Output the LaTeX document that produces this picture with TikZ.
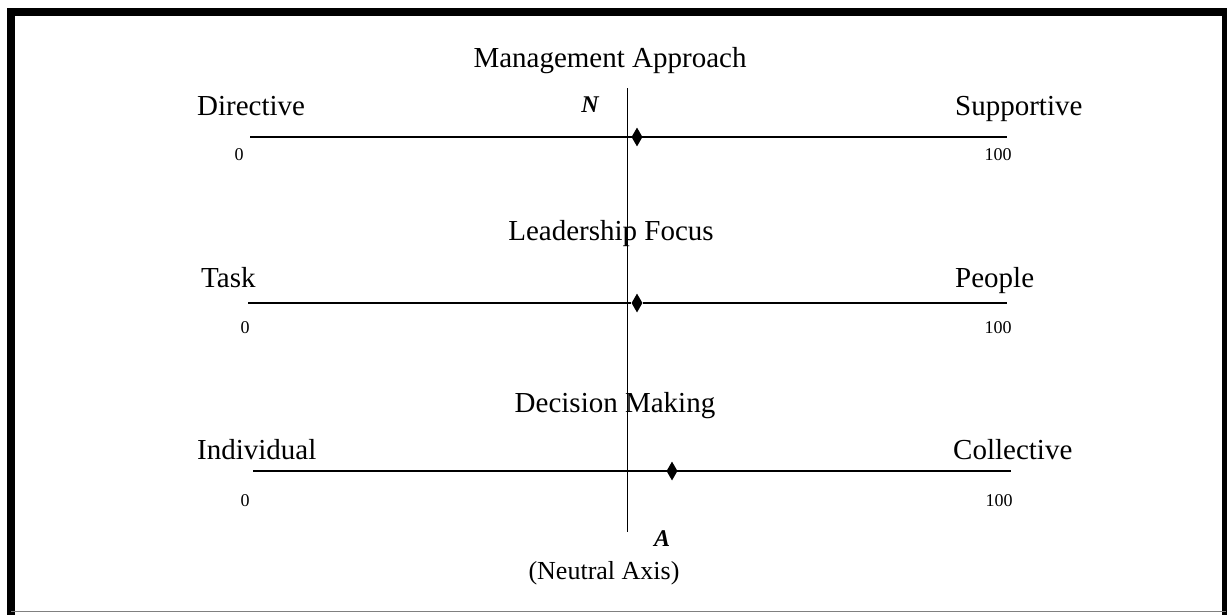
\documentclass[tikz,border=0pt]{standalone}
\usepackage{fontspec}
\setmainfont{Liberation Serif}
\usetikzlibrary{positioning, shapes.geometric}

\tikzset{
    scaleline/.style={line width=2pt},
    marker/.style={diamond, fill=black, inner sep=0pt, minimum width=11pt, minimum height=19pt},
    bigtext/.style={font=\fontsize{29}{34}\selectfont, inner sep=0pt},
    smalltext/.style={font=\fontsize{18}{21}\selectfont, inner sep=0pt}
}

\begin{document}
\begin{tikzpicture}[x=1pt,y=-1pt]
    \useasboundingbox (0,0) rectangle (1227,614);

    % frame round the figure
    \draw[line width=8pt] (11,650) -- (11,12) -- (1226,12) -- (1226,650);
    \draw[gray, line width=1.2pt] (11,611.5) -- (1226,611.5);

    % neutral axis, top and bottom end
    \coordinate (N0) at (627,88);
    \coordinate (A0) at (627,532);
    \draw[line width=1pt] (N0) -- (A0);
    \node[font=\fontsize{24}{28}\selectfont\bfseries\itshape, inner sep=0pt] (N) at (590,105) {N};
    \node[font=\fontsize{24}{28}\selectfont\bfseries\itshape, inner sep=0pt] (A) at (662,539) {A};
    \node[font=\fontsize{26}{30}\selectfont, inner sep=0pt] (axis) at (604,573) {(Neutral Axis)};

    % titles and end labels
    \begin{scope}[every node/.style={bigtext}]
    \node[anchor=base] (T1) at (610,67) {Management Approach};
    \node[anchor=base] (T2) at (611,240) {Leadership Focus};
    \node[anchor=base] (T3) at (615,412) {Decision Making};
    \node[anchor=base west] (L1) at (197,115) {Directive};
    \node[anchor=base west] (R1) at (955,115) {Supportive};
    \node[anchor=base west] (L2) at (201,287) {Task};
    \node[anchor=base west] (R2) at (955,287) {People};
    \node[anchor=base west] (L3) at (197,459) {Individual};
    \node[anchor=base west] (R3) at (953,459) {Collective};
    \end{scope}

    % scale numbers
    \begin{scope}[every node/.style={smalltext}]
    \node (z1) at (239,155) {0};
    \node (h1) at (998,155) {100};
    \node (z2) at (245,328) {0};
    \node (h2) at (998,328) {100};
    \node (z3) at (245,501) {0};
    \node (h3) at (999,501) {100};
    \end{scope}

    % the three scales
    \coordinate (a1) at (250,137);
    \coordinate (b1) at (1007,137);
    \coordinate (a2) at (248,303);
    \coordinate (b2) at (1007,303);
    \coordinate (a3) at (253,471);
    \coordinate (b3) at (1011,471);
    \node[marker] (d1) at (637,137) {};
    \node[marker] (d2) at (637,303) {};
    \node[marker] (d3) at (672,471) {};

    \draw[scaleline] (a1) -- (b1);
    \draw[line width=2.6pt] (a2) -- (d2);
    \draw[line width=1.6pt] (d2) -- (b2);
    \draw[scaleline] (a3) -- (b3);

\end{tikzpicture}
\end{document}
